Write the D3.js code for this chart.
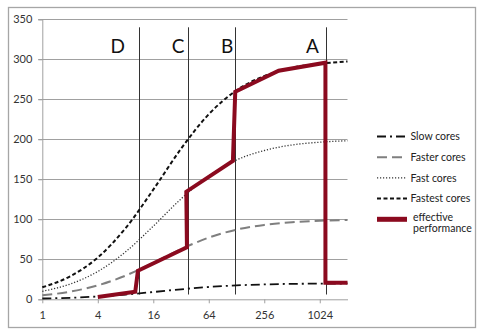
<!DOCTYPE html>
<html><head><meta charset="utf-8">
<script src="https://cdn.jsdelivr.net/npm/d3@7"></script>
<style>
html,body{margin:0;padding:0;background:#fff;}
svg{display:block;}
text{font-family:Lato,"Open Sans",sans-serif;}
</style></head>
<body>
<svg id="c" width="477" height="329"></svg>
<script>
// ---- data ----
const cores = [1, 2, 4, 8, 16, 32, 64, 128, 256, 512, 1024, 2048];
const slowCores    = [1, 1.9, 3.5, 5.9, 9.1, 12.5, 15.4, 17.4, 18.6, 19.3, 19.6, 19.8];
const fasterCores  = [5, 9.5, 17.4, 29.6, 45.7, 62.7, 77.1, 87.1, 93, 96.4, 98.2, 99.1];
const fastCores    = [10, 19, 34.8, 59.3, 91.4, 125.5, 154.2, 174.1, 186, 192.9, 196.4, 198.2];
const fastestCores = [15, 28.6, 52.2, 88.9, 137.1, 188.2, 231.3, 261.2, 279, 289.3, 294.5, 297.2];
const effectiveN   = [4, 10.2, 10.9, 37.1, 36.5, 117, 124, 367, 1180, 1180, 2048];
const effectiveV   = [3, 9.5, 35.7, 65, 134.5, 173, 259.5, 285.7, 295.7, 20.7, 20.7];
const zoneLabels   = ["D", "C", "B", "A"];
const zoneLineN    = [11.2, 38, 123, 1190];
const zoneLabelN   = [6.6, 29.8, 101, 853];
const xTicks = [1, 4, 16, 64, 256, 1024];
const yTicks = [0, 50, 100, 150, 200, 250, 300, 350];
const legendLabels = ["Slow cores", "Faster cores", "Fast cores", "Fastest cores", "effective performance"];

const svg = d3.select("#c");
const x = d3.scaleLog().base(2).domain([1, 2048]).range([42.3, 347.5]);
const y = d3.scaleLinear().domain([0, 350]).range([299.3, 19.3]);

// outer border
svg.append("rect").attr("x", 8.5).attr("y", 7.5).attr("width", 467).attr("height", 320)
  .attr("fill", "none").attr("stroke", "#a6a6a6").attr("stroke-width", 1.3);

// grid
svg.append("g").selectAll("line").data(yTicks.filter(d => d > 0)).join("line")
  .attr("x1", x.range()[0] - 4).attr("x2", x.range()[1])
  .attr("y1", d => Math.round(y(d)) + 0.5).attr("y2", d => Math.round(y(d)) + 0.5)
  .attr("stroke", "#a0a0a0").attr("stroke-width", 1);

// y axis
const yAx = svg.append("g").attr("transform", `translate(${x.range()[0]},0)`)
  .call(d3.axisLeft(y).tickValues(yTicks).tickSize(4).tickPadding(6));
yAx.select(".domain").attr("stroke", "#a0a0a0");
yAx.selectAll(".tick line").attr("stroke", "#a0a0a0");
yAx.selectAll("text").attr("font-size", 11).attr("fill", "#333").attr("font-family", "Lato");

// x axis
const xAx = svg.append("g").attr("transform", `translate(0,${y(0)})`)
  .call(d3.axisBottom(x).tickValues(xTicks).tickFormat(d3.format("d")).tickSize(4).tickPadding(8).tickSizeOuter(0));
xAx.select(".domain").attr("stroke", "#a0a0a0");
xAx.selectAll(".tick line").attr("stroke", "#a0a0a0");
xAx.selectAll("text").attr("font-size", 11).attr("fill", "#333").attr("font-family", "Lato");

// zone lines
svg.append("g").selectAll("line").data(zoneLineN).join("line")
  .attr("x1", d => Math.round(x(d)) + 0.5).attr("x2", d => Math.round(x(d)) + 0.5)
  .attr("y1", y(340)).attr("y2", y(6))
  .attr("stroke", "#333").attr("stroke-width", 1);
svg.append("g").selectAll("text").data(zoneLabels).join("text")
  .attr("x", (d, i) => x(zoneLabelN[i])).attr("y", 53)
  .attr("text-anchor", "middle").attr("font-size", 19).attr("fill", "#111")
  .text(d => d);

// series
const styles = [
  {vals: slowCores, stroke: "#111", w: 1.8, dash: "9,4,2,4"},
  {vals: fasterCores, stroke: "#7f7f7f", w: 2, dash: "10,5"},
  {vals: fastCores, stroke: "#333", w: 1.3, dash: "1.2,1.8"},
  {vals: fastestCores, stroke: "#111", w: 2, dash: "4,2.5"}
];
const line = d3.line().x(d => x(d[0])).y(d => y(d[1])).curve(d3.curveMonotoneX);
styles.forEach(s => {
  svg.append("path").datum(cores.map((c, i) => [c, s.vals[i]]))
    .attr("d", line).attr("fill", "none").attr("stroke", s.stroke)
    .attr("stroke-width", s.w).attr("stroke-dasharray", s.dash);
});
const eff = d3.line().x(d => x(d[0])).y(d => y(d[1]));
svg.append("path").datum(effectiveN.map((n, i) => [n, effectiveV[i]]))
  .attr("d", eff).attr("fill", "none").attr("stroke", "#8b0a1f")
  .attr("stroke-width", 4).attr("stroke-linejoin", "miter");

// legend
const legendSty = styles.concat([{stroke: "#8b0a1f", w: 5, dash: null}]);
const lg = svg.append("g");
legendLabels.forEach((lab, i) => {
  const ly = 136.5 + i * 20.7;
  const s = legendSty[i];
  lg.append("line").attr("x1", 377).attr("x2", 407).attr("y1", ly).attr("y2", ly)
    .attr("stroke", s.stroke).attr("stroke-width", s.w)
    .attr("stroke-dasharray", s.dash);
  if (i < 4) {
    lg.append("text").attr("x", 410.5).attr("y", ly).attr("dy", "0.35em")
      .attr("font-size", 10.5).attr("fill", "#222").text(lab);
  } else {
    const parts = lab.split(" ");
    parts.forEach((p, j) => {
      lg.append("text").attr("x", 413).attr("y", ly - 2 + j * 11.5).attr("dy", "0.35em")
        .attr("font-size", 10.5).attr("fill", "#222").text(p);
    });
  }
});
</script>
</body></html>
